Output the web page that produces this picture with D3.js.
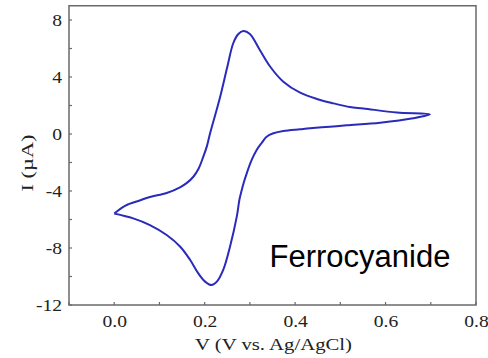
<!DOCTYPE html>
<html>
<head>
<meta charset="utf-8">
<script src="https://cdn.jsdelivr.net/npm/d3@7"></script>
<style>
  html, body { margin: 0; padding: 0; background: #fff; }
  svg { display: block; }
</style>
</head>
<body>
<div id="chart"></div>
<script>
// Forward (anodic) sweep 0 -> 0.7 V
const forwardV = [0.000, 0.025, 0.055, 0.079, 0.116, 0.1455, 0.160, 0.175, 0.187, 0.197, 0.205, 0.212, 0.223, 0.233, 0.250, 0.263, 0.274, 0.2855, 0.300, 0.322, 0.345, 0.374, 0.411, 0.448, 0.485, 0.521, 0.551, 0.625, 0.698];
const forwardI = [-5.58, -5.02, -4.68, -4.42, -4.14, -3.74, -3.45, -3.00, -2.40, -1.59, -0.85, 0.05, 1.30, 2.45, 4.70, 6.35, 7.00, 7.23, 7.02, 5.89, 4.72, 3.67, 2.90, 2.46, 2.15, 1.89, 1.79, 1.51, 1.38];

// Reverse (cathodic) sweep 0.7 -> 0 V
const reverseV = [0.698, 0.661, 0.588, 0.514, 0.477, 0.433, 0.411, 0.374, 0.352, 0.337, 0.326, 0.315, 0.304, 0.293, 0.286, 0.282, 0.277, 0.271, 0.256, 0.241, 0.227, 0.215, 0.201, 0.186, 0.168, 0.146, 0.116, 0.079, 0.042, 0.000];
const reverseI = [1.38, 1.10, 0.79, 0.61, 0.51, 0.40, 0.33, 0.21, 0.05, -0.19, -0.63, -1.12, -1.82, -2.76, -3.46, -3.93, -4.58, -5.80, -7.91, -9.54, -10.36, -10.60, -10.36, -9.78, -8.84, -7.91, -7.09, -6.39, -5.92, -5.58];

const xTicks = [0.0, 0.2, 0.4, 0.6, 0.8];
const xMinorTicks = [-0.1, 0.1, 0.3, 0.5, 0.7];
const yTicks = [-12, -8, -4, 0, 4, 8];
const yMinorTicks = [-10, -6, -2, 2, 6];

const xTitle = 'V (V vs. Ag/AgCl)';
const yTitle = 'I (\u00b5A)';
const annotation = 'Ferrocyanide';

const W = 488, H = 358;
const margin = { top: 5.75, right: 12, bottom: 53, left: 69 };
const width = W - margin.left - margin.right;
const height = H - margin.top - margin.bottom;
const frameColor = '#6a6a6a';
const lineColor = '#2a2abb';
const serif = '"Liberation Serif", "Times New Roman", serif';
const stretch = 1.12; // original serif looks a bit wider than Liberation Serif

const svg = d3.select('#chart').append('svg')
  .attr('width', W)
  .attr('height', H);

const g = svg.append('g')
  .attr('transform', `translate(${margin.left},${margin.top})`);

const x = d3.scaleLinear().domain([-0.1, 0.8]).range([0, width]);
const y = d3.scaleLinear().domain([-12, 9]).range([height, 0]);

// curve: forward then reverse, as one closed loop
const sweep = forwardV.map((v, i) => [v, forwardI[i]])
  .concat(reverseV.slice(1).map((v, i) => [v, reverseI[i + 1]]));

const line = d3.line()
  .x(d => x(d[0]))
  .y(d => y(d[1]))
  .curve(d3.curveCatmullRom.alpha(0.5));

g.append('path')
  .datum(sweep)
  .attr('fill', 'none')
  .attr('stroke', lineColor)
  .attr('stroke-width', 2)
  .attr('stroke-linejoin', 'round')
  .attr('d', line);

// X axis labels
const xAxis = g.append('g')
  .attr('transform', `translate(0,${height})`)
  .call(d3.axisBottom(x).tickValues(xTicks).tickFormat(d3.format('.1f')).tickSize(0).tickPadding(9));

xAxis.selectAll('.tick line').remove();
xAxis.select('.domain').remove();
xAxis.selectAll('.tick text')
  .attr('font-family', serif)
  .attr('font-size', 17.5)
  .attr('fill', '#222')
  .attr('dy', '0.72em')
  .attr('transform', `scale(${stretch},1)`);

// x ticks point inward
g.selectAll('.xtick')
  .data(xTicks.concat(xMinorTicks))
  .enter().append('line')
  .attr('x1', d => x(d)).attr('x2', d => x(d))
  .attr('y1', height).attr('y2', height - 3)
  .attr('stroke', frameColor)
  .attr('stroke-width', 1.2);

// Y axis labels
const yAxis = g.append('g')
  .call(d3.axisLeft(y).tickValues(yTicks).tickFormat(d => String(d)).tickSize(0).tickPadding(0));

yAxis.select('.domain').remove();
yAxis.selectAll('.tick line').remove();
yAxis.selectAll('.tick text')
  .attr('font-family', serif)
  .attr('font-size', 17.5)
  .attr('fill', '#222')
  .attr('x', -7 / stretch)
  .attr('dy', '0.33em')
  .attr('transform', `scale(${stretch},1)`);

g.selectAll('.ytick')
  .data(yTicks.concat(yMinorTicks))
  .enter().append('line')
  .attr('x1', 0).attr('x2', 3)
  .attr('y1', d => y(d)).attr('y2', d => y(d))
  .attr('stroke', frameColor)
  .attr('stroke-width', 1.2);

// frame
g.append('rect')
  .attr('x', 0).attr('y', 0)
  .attr('width', width).attr('height', height)
  .attr('fill', 'none')
  .attr('stroke', frameColor)
  .attr('stroke-width', 1.5);

// axis titles
svg.append('text')
  .attr('x', 195).attr('y', 350)
  .attr('font-family', serif)
  .attr('font-size', 17.5)
  .attr('fill', '#222')
  .attr('textLength', 157)
  .attr('lengthAdjust', 'spacingAndGlyphs')
  .text(xTitle);

svg.append('text')
  .attr('transform', 'translate(32.5,191.5) rotate(-90)')
  .attr('font-family', serif)
  .attr('font-size', 17.5)
  .attr('fill', '#222')
  .attr('textLength', 57)
  .attr('lengthAdjust', 'spacingAndGlyphs')
  .text(yTitle);

// annotation
g.append('text')
  .attr('x', 269.5 - margin.left)
  .attr('y', 267.3 - margin.top)
  .attr('font-family', '"Liberation Sans", Arial, sans-serif')
  .attr('font-size', 31)
  .attr('fill', '#000')
  .text(annotation);
</script>
</body>
</html>
